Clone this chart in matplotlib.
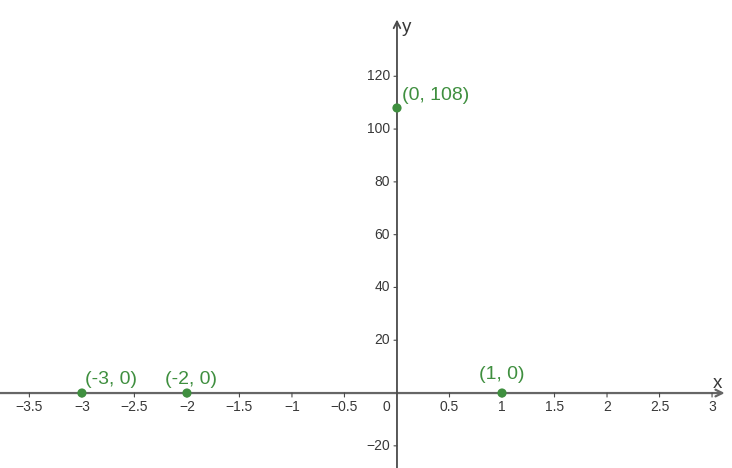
import matplotlib
matplotlib.use("Agg")
import matplotlib.pyplot as plt
import numpy as np

# Data
point_x = [-3, -2, 0, 1]
point_y = [0, 0, 108, 0]
point_labels = ["(-3, 0)", "(-2, 0)", "(0, 108)", "(1, 0)"]
label_offsets = [(29, 14), (4, 14), (5, 12), (0, 19)]  # pixel offsets (style)
label_ha = ["center", "center", "left", "center"]

x_ticks = [-3.5, -3, -2.5, -2, -1.5, -1, -0.5, 0.5, 1, 1.5, 2, 2.5, 3]
y_ticks = [-20, 20, 40, 60, 80, 100, 120]

plt.rcParams['font.family'] = ['Liberation Sans', 'DejaVu Sans']

green = "#3f8f3f"
axis_col = "#4a4a4a"
text_col = "#383838"

fig = plt.figure(figsize=(7.32, 4.68), dpi=100)
ax = fig.add_axes([0, 0, 1, 1])
ax.set_xlim(-3.78, 3.19)
ax.set_ylim(-28.4, 148.9)

for s in ax.spines.values():
    s.set_visible(False)

# Axes lines with arrows
ax.annotate("", xy=(3.12, 0), xytext=(-3.78, 0),
            arrowprops=dict(arrowstyle="->", color="#666666", lw=1.6,
                            shrinkA=0, shrinkB=0, mutation_scale=12), zorder=1)
ax.annotate("", xy=(0, 141.5), xytext=(0, -28.4),
            arrowprops=dict(arrowstyle="->", color=axis_col, lw=1.3,
                            shrinkA=0, shrinkB=0, mutation_scale=12), zorder=1)

# ticks
ax.set_xticks([])
ax.set_yticks([])
for xt in x_ticks:
    ax.annotate("", xy=(xt, 0), xytext=(0, -4), textcoords="offset pixels",
                xycoords="data", arrowprops=dict(arrowstyle="-", color=axis_col, lw=0.8,
                                                 shrinkA=0, shrinkB=0))
    lbl = f"{xt:g}".replace("-", "\u2212")
    ax.annotate(lbl, xy=(xt, 0), xytext=(0, -14), textcoords="offset pixels",
                ha="center", va="center", fontsize=10, color=text_col)
for yt in y_ticks:
    ax.annotate("", xy=(0, yt), xytext=(-3, 0), textcoords="offset pixels",
                arrowprops=dict(arrowstyle="-", color=axis_col, lw=0.8,
                                shrinkA=0, shrinkB=0))
    lbl = f"{yt:g}".replace("-", "\u2212")
    ax.annotate(lbl, xy=(0, yt), xytext=(-7, 0), textcoords="offset pixels",
                ha="right", va="center", fontsize=10, color=text_col)
ax.annotate("0", xy=(0, 0), xytext=(-11, -14), textcoords="offset pixels",
            ha="center", va="center", fontsize=10, color=text_col)

# axis names
ax.annotate("x", xy=(3.12, 0), xytext=(-7, 10), textcoords="offset pixels",
            ha="center", va="center", fontsize=13.5, color=text_col)
ax.annotate("y", xy=(0, 141.5), xytext=(10, -8), textcoords="offset pixels",
            ha="center", va="center", fontsize=13.5, color=text_col)

# points
ax.scatter(point_x, point_y, s=44, color=green, zorder=5, edgecolors="none")
for px, py, lab, off, ha in zip(point_x, point_y, point_labels, label_offsets, label_ha):
    ax.annotate(lab, xy=(px, py), xytext=off, textcoords="offset pixels",
                ha=ha, va="center", fontsize=14, color=green)

fig.savefig("out.png", dpi=100)
